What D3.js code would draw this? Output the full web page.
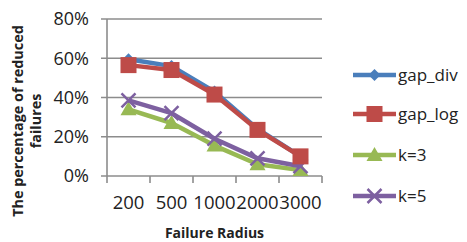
<!DOCTYPE html>
<html><head><meta charset="utf-8">
<script src="https://cdn.jsdelivr.net/npm/d3@7"></script>
<style>body{margin:0;background:#fff}svg{display:block}</style>
</head><body>
<svg id="c" width="467" height="242"></svg>
<script>
const categories = ["200","500","1000","2000","3000"];
const gapDiv = [0.595, 0.56, 0.43, 0.24, 0.10];
const gapLog = [0.565, 0.54, 0.415, 0.235, 0.10];
const k3 = [0.34, 0.27, 0.155, 0.06, 0.03];
const k5 = [0.385, 0.32, 0.19, 0.09, 0.05];
const yTicks = [0, 0.2, 0.4, 0.6, 0.8];
const seriesNames = ["gap_div","gap_log","k=3","k=5"];

(function () {
const series = [
  {name: seriesNames[0], values: gapDiv, color: "#4a7ebb", marker: "diamond"},
  {name: seriesNames[1], values: gapLog, color: "#be4b48", marker: "square"},
  {name: seriesNames[2], values: k3, color: "#98b954", marker: "triangle"},
  {name: seriesNames[3], values: k5, color: "#7d60a0", marker: "x"}
];
const drawOrder = [2, 3, 0, 1];

const svg = d3.select("#c");
const FONT = "'Open Sans', sans-serif";
const pL = 107, pR = 322, pT = 19, pB = 176;

const x = d3.scaleBand().domain(categories).range([pL, pR]);
const y = d3.scaleLinear().domain([0, 0.8]).range([pB, pT]);
const grid = "#8c8c8c";

svg.append("g").selectAll("line").data(yTicks).join("line")
  .attr("x1", pL - 6).attr("x2", pR).attr("y1", d => y(d)).attr("y2", d => y(d))
  .attr("stroke", grid).attr("stroke-width", 1.6);
svg.append("line").attr("x1", pL).attr("x2", pL).attr("y1", pT).attr("y2", pB)
  .attr("stroke", grid).attr("stroke-width", 1.6);
const bounds = categories.map(c => x(c)).concat([pR]);
svg.append("g").selectAll("line").data(bounds).join("line")
  .attr("x1", d => d).attr("x2", d => d).attr("y1", pB).attr("y2", pB + 7)
  .attr("stroke", grid).attr("stroke-width", 1.6);

svg.append("g").selectAll("text").data(yTicks).join("text")
  .attr("x", 89).attr("y", d => y(d)).attr("dy", "0.35em")
  .attr("text-anchor", "end").attr("font-family", FONT).attr("font-size", 18)
  .attr("fill", "#222").text(d3.format(".0%"));
svg.append("g").selectAll("text").data(categories).join("text")
  .attr("x", d => x(d) + x.bandwidth() / 2).attr("y", 203).attr("dy", "0.35em")
  .attr("text-anchor", "middle").attr("font-family", FONT).attr("font-size", 18.5)
  .attr("fill", "#222").text(d => d);

svg.append("text").attr("x", (pL + pR) / 2).attr("y", 233).attr("dy", "0.35em")
  .attr("text-anchor", "middle").attr("font-family", FONT).attr("font-size", 14)
  .attr("font-weight", "bold").attr("fill", "#222").text("Failure Radius");
const yt = svg.append("text").attr("transform", "translate(0,121) rotate(-90)")
  .attr("text-anchor", "middle").attr("font-family", FONT).attr("font-size", 14.4)
  .attr("font-weight", "bold").attr("fill", "#222");
yt.append("tspan").attr("x", 0).attr("y", 23).text("The percentage of reduced");
yt.append("tspan").attr("x", 0).attr("y", 41).text("failures");

function drawMarker(g, type, cx, cy, color) {
  if (type === "diamond") {
    g.append("path").attr("d", `M${cx},${cy-6}L${cx+6},${cy}L${cx},${cy+6}L${cx-6},${cy}Z`).attr("fill", color);
  } else if (type === "square") {
    g.append("rect").attr("x", cx - 8).attr("y", cy - 8).attr("width", 16).attr("height", 16).attr("fill", color);
  } else if (type === "triangle") {
    g.append("path").attr("d", `M${cx},${cy-8}L${cx+8},${cy+6}L${cx-8},${cy+6}Z`).attr("fill", color);
  } else if (type === "x") {
    g.append("path").attr("d", `M${cx-7},${cy-7}L${cx+7},${cy+7}M${cx+7},${cy-7}L${cx-7},${cy+7}`)
      .attr("stroke", color).attr("stroke-width", 2.5);
  }
}

const line = d3.line().x((d, i) => x(categories[i]) + x.bandwidth() / 2).y(d => y(d));
drawOrder.forEach(si => {
  const s = series[si];
  const g = svg.append("g");
  g.append("path").attr("d", line(s.values)).attr("fill", "none")
    .attr("stroke", s.color).attr("stroke-width", 4.5).attr("stroke-linejoin", "round");
  s.values.forEach((v, i) => drawMarker(g, s.marker, x(categories[i]) + x.bandwidth() / 2, y(v), s.color));
});

const legY = [75, 114, 155, 196];
series.forEach((s, i) => {
  const g = svg.append("g");
  g.append("line").attr("x1", 353).attr("x2", 396).attr("y1", legY[i]).attr("y2", legY[i])
    .attr("stroke", s.color).attr("stroke-width", 4.5);
  drawMarker(g, s.marker, 374.5, legY[i], s.color);
  g.append("text").attr("x", 398).attr("y", legY[i]).attr("dy", "0.35em")
    .attr("font-family", FONT).attr("font-size", 17).attr("fill", "#222").text(s.name);
});
})();
</script>
</body></html>
